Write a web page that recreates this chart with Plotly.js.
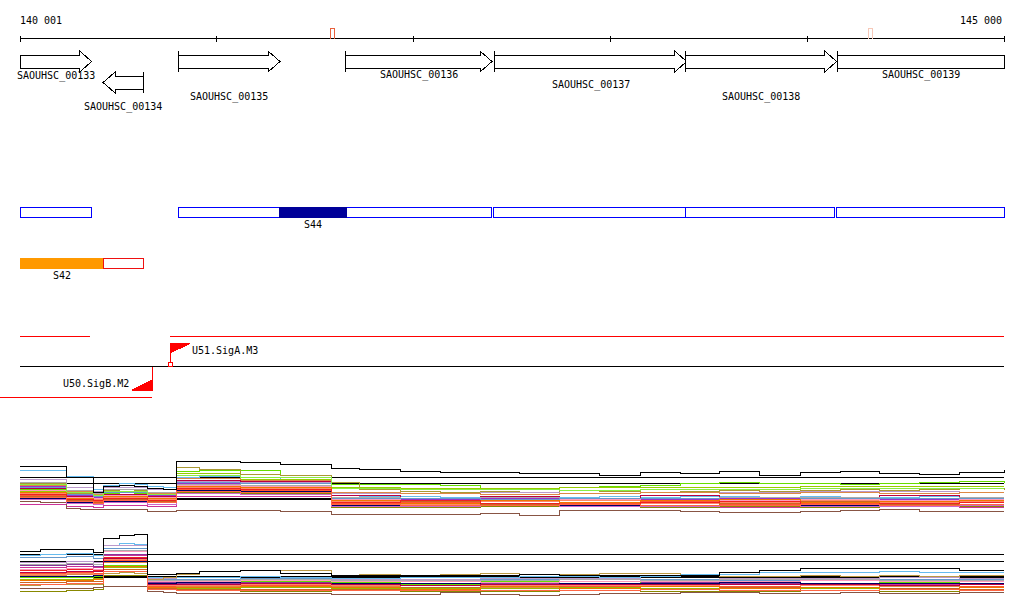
<!DOCTYPE html>
<html><head><meta charset="utf-8">
<script src="https://cdn.plot.ly/plotly-3.0.1.min.js"></script>
<style>html,body{margin:0;padding:0;background:#fff}#chart{width:1024px;height:611px}#chart svg path{shape-rendering:crispEdges}</style>
</head><body><div id="chart"></div>
<script>
// ================= DATA =================
const viewStart = 140001, viewEnd = 145000;
const rulerTicks = [140001, 141000, 142000, 143000, 144000, 145000];
const rulerMarks = [141591, 144324];

const geneNames  = ['SAOUHSC_00133','SAOUHSC_00134','SAOUHSC_00135','SAOUHSC_00136','SAOUHSC_00137','SAOUHSC_00138','SAOUHSC_00139'];
const geneStart  = [139960, 140423, 140805, 141657, 142411, 143383, 144155];
const geneEnd    = [140365, 140627, 141322, 142399, 143388, 144150, 145400];
const geneStrand = ['+', '-', '+', '+', '+', '+', '+'];

const segStart = [140001, 140805, 142409, 143384, 144151];
const segEnd   = [140365, 142397, 143384, 144141, 145000];
const seg44Name = 'S44', seg44Start = 141317, seg44End = 141662;
const seg42Name = 'S42', seg42FillStart = 140001, seg42FillEnd = 140423, seg42BoxStart = 140423, seg42BoxEnd = 140627;

const tuPlusStart  = [140001, 140763];
const tuPlusEnd    = [140357, 145000];
const tuMinusStart = [139800];
const tuMinusEnd   = [140672];

const promoterNames  = ['U51.SigA.M3', 'U50.SigB.M2'];
const promoterPos    = [140768, 140672];
const promoterStrand = ['+', '-'];
const tssPos = [140768];

const exprPos = [140001,140235,140372,140423,140651,140794,141119,141581,141932,142338,142744,143151,143557,143964,144370,144776,145000];
const exprPosFine = [140001,140103,140235,140306,140372,140423,140509,140585,140651,140728,140794,140915,141119,141322,141581,141728,141932,142135,142338,142541,142744,142947,143151,143354,143557,143760,143964,144167,144370,144573,144776,145000];
const track1Thresholds = [11.7, 11.1, 9.6];
const track2Thresholds = [11.5, 10.8, 9.3];

// track 1 (upper expression panel)
const t1_s01 = [12.8,12.8,11.7,11.7,10.2,10.8,10.9,10.8,10.6,10.5,13.3,13.3,13.2,13.0,12.6,12.5,12.3,12.2,12.2,12.1,12.1,11.9,12.2,12.1,12.3,11.9,12.2,12.3,12.1,12.0,12.2,12.5];
const t1_s02 = [12.4,12.4,11.8,11.8,10.5,10.9,11.1,11.0,10.8,10.7,11.7,11.8,11.7,11.5,9.9,9.8,9.8,9.7,9.8,9.7,9.7,9.8,9.7,9.8,9.8,9.7,9.8,9.7,9.7,9.8,9.7,9.7];
const t1_s03 = [10.5,10.5,10.0,9.9,9.8,10.1,10.2,10.1,9.8,9.8,12.3,12.4,12.4,11.9,11.0,11.0,11.0,10.9,10.6,10.6,10.7,10.8,10.9,11.1,11.2,11.1,11.1,11.0,11.1,11.2,11.3,11.2];
const t1_s04 = [10.3,9.8,9.7,10.0,9.7,12.1,11.5,10.7,10.6,10.6,10.7,10.7,10.7,10.8,10.8,10.8,10.8];
const t1_s05 = [11.1,11.1,10.1,10.1,9.9,10.4,10.5,10.4,10.1,10.1,12.7,12.5,12.0,11.9,11.2,10.5,10.3,10.2,10.3,10.2,10.4,10.3,10.2,10.3,10.4,10.3,10.4,10.5,10.4,10.5,10.6,10.5];
const t1_s06 = [11.5,10.7,10.3,10.7,10.5,11.3,11.2,10.1,10.1,10.2,10.1,10.2,10.2,10.3,10.3,10.2,10.2];
const t1_s07 = [9.0,8.8,8.7,8.9,8.8,9.8,9.8,8.7,8.7,8.8,8.8,8.7,8.7,8.8,8.8,8.7,8.7];
const t1_s08 = [9.3,9.2,8.6,8.5,8.5,8.5,8.5,8.5,8.3,8.3,8.4,8.4,8.4,8.3,8.0,8.0,8.0,8.0,8.1,7.9,8.4,8.4,8.4,8.3,8.2,8.2,8.3,8.4,8.5,8.3,8.3,8.3];
const t1_s09 = [10.9,10.3,10.0,10.3,10.1,11.6,11.4,10.2,10.1,10.0,10.1,10.2,10.1,10.2,10.1,10.2,10.2];
const t1_s10 = [9.9,9.5,9.3,9.5,9.3,10.5,10.4,9.1,9.2,8.9,9.1,9.3,9.0,9.1,9.2,8.9,8.9];
const t1_s11 = [10.1,9.6,9.5,9.7,9.5,10.7,10.6,9.3,9.0,9.3,9.4,9.1,9.2,9.4,9.2,9.3,9.3];
const t1_s12 = [10.8,9.9,9.7,10.2,9.9,11.1,10.9,9.5,9.5,9.6,9.5,9.5,9.6,9.5,9.5,9.6,9.6];
const t1_s13 = [10.6,9.8,9.6,10.0,9.8,11.4,11.3,9.9,9.6,9.8,9.5,9.9,9.4,9.7,9.9,9.6,9.6];
const t1_s14 = [9.6,9.2,9.1,9.3,9.2,10.4,10.3,8.9,8.9,8.8,8.9,8.9,8.8,8.9,9.0,8.9,8.9];
const t1_s15 = [11.2,10.4,10.1,10.5,10.2,11.0,10.9,9.7,9.6,9.7,9.6,9.6,9.7,9.7,9.6,9.7,9.7];
const t1_s16 = [9.7,9.3,9.2,9.4,9.2,10.2,10.1,8.7,8.7,8.8,8.8,8.7,8.8,8.7,8.8,8.8,8.8];
const t1_s17 = [10.4,9.7,9.6,9.9,9.7,10.9,10.8,9.5,9.4,9.4,9.5,9.4,9.4,9.5,9.4,9.5,9.5];
const t1_s18 = [9.8,9.4,9.2,9.5,9.3,10.6,10.5,9.2,9.3,9.0,9.2,8.9,9.1,9.3,9.0,9.2,9.2];
const t1_s19 = [10.7,10.0,9.8,10.2,10.0,11.2,11.1,9.6,9.6,9.5,9.6,9.6,9.5,9.6,9.6,9.6,9.6];
const t1_s20 = [11.0,10.2,9.9,10.3,10.0,11.9,11.7,10.6,10.5,10.5,10.4,10.5,10.5,10.6,10.6,10.6,10.6];
const t1_s21 = [10.2,9.6,9.4,9.8,9.6,10.8,10.7,9.4,9.1,9.4,9.2,9.4,9.5,9.2,9.3,9.4,9.4];
const t1_s22 = [9.5,9.1,9.0,9.2,9.0,10.1,10.0,8.8,8.8,8.9,8.8,8.8,8.9,8.8,8.8,8.9,8.9];
const t1_s23 = [10.0,9.5,9.4,9.6,9.4,10.6,10.5,9.2,9.4,9.1,9.0,9.2,9.3,9.0,9.1,9.2,9.2];
const t1_s24 = [9.7,9.3,9.1,9.4,9.2,10.3,10.2,9.0,8.9,8.9,9.0,8.9,8.9,9.0,8.9,9.0,9.0];

// track 2 (lower expression panel)
const t2_s01 = [11.8,12.0,12.0,12.0,11.7,13.1,13.4,13.5,9.5,9.5,9.6,9.8,9.9,9.6,9.4,9.4,9.4,9.4,9.4,9.5,9.4,9.4,9.4,9.4,9.7,9.9,10.1,10.1,10.1,10.1,9.9,9.9];
const t2_s02 = [11.4,11.5,11.6,11.6,11.4,12.4,12.6,12.5,9.2,9.1,9.2,9.2,9.3,9.2,9.1,9.1,9.2,9.2,9.2,9.3,9.3,9.2,9.3,9.5,9.5,9.7,9.7,9.7,9.8,9.7,9.7,9.7];
const t2_s03 = [10.7,10.8,10.7,12.4,9.1,9.0,9.1,9.0,9.0,9.1,9.1,9.0,9.1,9.1,9.2,9.1,9.1];
const t2_s04 = [11.2,11.3,11.1,12.1,9.0,9.0,9.1,8.9,8.9,9.0,9.0,9.0,8.9,9.0,9.0,9.0,9.0];
const t2_s05 = [8.4,8.5,8.5,8.5,8.5,9.6,9.7,9.6,9.0,9.2,9.5,9.8,9.9,9.9,9.4,9.5,9.4,9.5,9.6,9.5,9.5,9.6,9.6,9.4,9.3,9.3,9.4,9.3,9.4,9.3,9.4,9.4];
const t2_s06 = [10.2,10.3,10.2,11.4,8.6,8.5,8.6,8.5,8.5,8.6,8.5,8.5,8.6,8.6,8.5,8.6,8.6];
const t2_s07 = [10.4,10.5,10.3,11.5,8.7,8.6,8.7,8.6,8.6,8.6,8.6,8.7,8.6,8.6,8.7,8.6,8.6];
const t2_s08 = [9.9,10.0,9.9,11.2,8.5,8.4,8.5,8.4,8.6,8.3,8.5,8.4,8.2,8.5,8.6,8.3,8.3];
const t2_s09 = [9.6,9.7,9.6,10.9,8.3,8.3,8.4,8.2,8.1,8.4,8.3,8.1,8.3,8.4,8.1,8.3,8.3];
const t2_s10 = [9.4,9.5,9.4,10.7,8.4,8.3,8.3,8.3,8.2,8.2,8.2,8.3,8.2,8.2,8.3,8.2,8.2];
const t2_s11 = [9.2,9.2,9.3,10.4,8.8,8.7,8.8,8.7,8.5,8.8,8.6,8.8,8.5,8.4,8.7,8.6,8.6];
const t2_s12 = [9.0,9.0,9.1,10.2,8.2,8.1,8.2,8.1,8.1,8.1,8.2,8.1,8.1,8.1,8.1,8.2,8.2];
const t2_s13 = [7.8,7.9,8.0,9.4,8.0,7.9,7.8,7.9,7.8,7.8,7.9,7.8,7.8,7.9,7.8,7.9,7.9];
const t2_s14 = [8.1,8.1,8.1,8.1,8.2,8.3,8.3,8.3,7.8,7.7,7.6,7.6,7.6,7.6,7.5,7.5,7.5,7.7,7.5,7.4,7.5,7.6,7.6,7.7,7.7,7.6,7.6,7.7,7.6,7.6,7.7,7.7];
const t2_s15 = [9.3,9.3,9.4,10.8,8.6,8.7,8.6,8.6,8.6,8.5,8.6,8.6,8.7,8.6,8.6,8.6,8.6];
const t2_s16 = [8.7,8.8,8.8,10.0,8.1,8.0,8.0,8.0,8.2,7.9,8.1,8.0,8.2,7.9,8.1,8.0,8.0];
const t2_s17 = [9.5,9.6,9.5,11.0,8.4,8.4,8.5,8.4,8.4,8.4,8.4,8.4,8.5,8.4,8.4,8.5,8.5];
const t2_s18 = [10.0,10.1,10.0,11.8,8.8,8.8,8.9,8.8,8.8,8.7,8.8,8.8,8.8,8.9,8.8,8.8,8.8];
const t2_s19 = [10.5,10.6,10.5,11.9,8.9,8.9,9.0,8.9,8.9,8.9,9.0,8.9,9.0,9.0,8.9,8.9,8.9];
const t2_s20 = [8.9,8.9,9.0,10.3,8.2,8.2,8.3,8.2,8.0,8.3,8.1,8.3,8.1,8.2,8.0,8.2,8.2];
const t2_s21 = [9.7,9.8,9.8,11.1,8.5,8.5,8.6,8.5,8.4,8.5,8.5,8.5,8.5,8.5,8.4,8.5,8.5];
const t2_s22 = [8.5,8.6,8.6,9.8,8.0,7.9,7.9,7.9,7.9,7.9,7.9,8.0,7.9,7.9,8.0,7.9,7.9];

// ================= STYLE / LAYOUT =================
const FONT = {family: 'DejaVu Sans Mono, monospace', size: 10, color: '#000'};
const PXW = 984;                                   // pixels covering the view
const bpPerPx = (viewEnd - viewStart) / PXW;
const pad = 20 * bpPerPx;

const track1 = [t1_s02,t1_s03,t1_s04,t1_s05,t1_s06,t1_s07,t1_s08,t1_s09,t1_s10,t1_s11,t1_s12,t1_s13,t1_s14,t1_s15,t1_s16,t1_s17,t1_s18,t1_s19,t1_s20,t1_s21,t1_s22,t1_s23,t1_s24];
const track1Colors = ['#66bbee','#66dd00','#99cc00','#aa9933','#bb99cc','#cc3399','#885544','#dd8844','#ff5533','#ff8866','#9933cc','#bb0044','#000066','#aaaaaa','#888800','#ff99bb','#cc6622','#6699cc','#88ee44','#ee7700','#cc66cc','#ee2222','#ff6644'];
const track2 = [t2_s02,t2_s03,t2_s04,t2_s05,t2_s06,t2_s07,t2_s08,t2_s09,t2_s10,t2_s11,t2_s12,t2_s13,t2_s14,t2_s15,t2_s16,t2_s17,t2_s18,t2_s19,t2_s20,t2_s21,t2_s22];
const track2Colors = ['#66bbee','#bb99cc','#6699cc','#bb9944','#cc3399','#883399','#ee2222','#ff5533','#dd8844','#66dd00','#99bb00','#888800','#885544','#000066','#cc6622','#ff8866','#ff99bb','#aaaaaa','#ee7700','#bb0044','#ff6644'];

// row positions (pixel rows of the annotation panel)
const RULER_Y = 38.5, RULER_LABEL_Y = 20;
const GENE_Y = {'+': 61.5, '-': 82.5};
const GENE_LABEL_Y = [76, 107, 97, 75, 85, 97, 75];
const SEG_Y0 = 207.5, SEG_Y1 = 217.5, SEG_LABEL_Y = 224;
const S42_Y0 = 258.5, S42_Y1 = 268.5, S42_LABEL_Y = 275;
const TU_PLUS_Y = 336.5, STRAND_Y = 366.5, TU_MINUS_Y = 397.5;

const shapes = [], annotations = [], traces = [];

// ruler
traces.push({x:[viewStart, viewEnd], y:[RULER_Y, RULER_Y], xaxis:'x', yaxis:'y', mode:'lines',
  line:{color:'#000', width:1}, hoverinfo:'skip'});
rulerTicks.forEach(t => shapes.push({type:'line', xref:'x', yref:'y', x0:t, x1:t, y0:RULER_Y-3, y1:RULER_Y+3, line:{color:'#000', width:1}}));
const fmt = n => String(n).replace(/\B(?=(\d{3})+(?!\d))/g, ' ');
annotations.push({x:viewStart, y:RULER_LABEL_Y, xref:'x', yref:'y', text:fmt(viewStart), showarrow:false, xanchor:'left', yanchor:'middle', font:FONT, xshift:-2});
annotations.push({x:viewEnd, y:RULER_LABEL_Y, xref:'x', yref:'y', text:fmt(viewEnd), showarrow:false, xanchor:'right', yanchor:'middle', font:FONT, xshift:0});
const markColors = ['#e8603c', '#f6c8b8'];
rulerMarks.forEach((m, i) => {
  const h = 2 * bpPerPx;
  shapes.push({type:'path', xref:'x', yref:'y', path:`M ${m-h},${RULER_Y} L ${m-h},28 L ${m+h},28 L ${m+h},${RULER_Y}`, line:{color:markColors[i], width:1}});
});

// genes
const HEAD = 12 * bpPerPx, BH = 6.5, HH = 10.5;
geneNames.forEach((name, i) => {
  const st = geneStrand[i], yc = GENE_Y[st];
  const s = Math.max(geneStart[i], viewStart), e = Math.min(geneEnd[i], viewEnd);
  let p;
  if (st === '+') {
    if (geneEnd[i] > viewEnd) {
      p = `M ${s},${yc-BH} L ${e},${yc-BH} L ${e},${yc+BH} L ${s},${yc+BH} Z`;
    } else {
      const hb = e - HEAD;
      p = `M ${s},${yc-BH} L ${hb},${yc-BH} L ${hb},${yc-HH} L ${e},${yc} L ${hb},${yc+HH} L ${hb},${yc+BH} L ${s},${yc+BH} Z`;
    }
    if (geneStart[i] > viewStart) shapes.push({type:'line', xref:'x', yref:'y', x0:s, x1:s, y0:yc-HH, y1:yc+HH, line:{color:'#000', width:1}});
  } else {
    const hb = s + HEAD;
    p = `M ${e},${yc-BH} L ${hb},${yc-BH} L ${hb},${yc-HH} L ${s},${yc} L ${hb},${yc+HH} L ${hb},${yc+BH} L ${e},${yc+BH} Z`;
    if (geneEnd[i] < viewEnd) shapes.push({type:'line', xref:'x', yref:'y', x0:e, x1:e, y0:yc-HH, y1:yc+HH, line:{color:'#000', width:1}});
  }
  shapes.push({type:'path', xref:'x', yref:'y', path:p, fillcolor:'#fff', line:{color:'#000', width:1}, layer:'below'});
  annotations.push({x:(s+e)/2, y:GENE_LABEL_Y[i], xref:'x', yref:'y', text:name, showarrow:false, xanchor:'center', yanchor:'middle', font:FONT});
});

// segments
segStart.forEach((s, i) => shapes.push({type:'rect', xref:'x', yref:'y', x0:s, x1:segEnd[i], y0:SEG_Y0, y1:SEG_Y1, line:{color:'#0000ff', width:1}, fillcolor:'rgba(0,0,0,0)'}));
shapes.push({type:'rect', xref:'x', yref:'y', x0:seg44Start, x1:seg44End, y0:SEG_Y0, y1:SEG_Y1, line:{color:'#000099', width:1}, fillcolor:'#000099'});
annotations.push({x:(seg44Start+seg44End)/2, y:SEG_LABEL_Y, xref:'x', yref:'y', text:seg44Name, showarrow:false, xanchor:'center', yanchor:'middle', font:FONT});
shapes.push({type:'rect', xref:'x', yref:'y', x0:seg42FillStart, x1:seg42FillEnd, y0:S42_Y0, y1:S42_Y1, line:{color:'#ff9900', width:1}, fillcolor:'#ff9900'});
shapes.push({type:'rect', xref:'x', yref:'y', x0:seg42BoxStart, x1:seg42BoxEnd, y0:S42_Y0, y1:S42_Y1, line:{color:'#ee1111', width:1}, fillcolor:'rgba(0,0,0,0)'});
annotations.push({x:(seg42FillStart+seg42FillEnd)/2, y:S42_LABEL_Y, xref:'x', yref:'y', text:seg42Name, showarrow:false, xanchor:'center', yanchor:'middle', font:FONT});

// transcription units / strand line
tuPlusStart.forEach((s, i) => shapes.push({type:'line', xref:'x', yref:'y', x0:s, x1:tuPlusEnd[i], y0:TU_PLUS_Y, y1:TU_PLUS_Y, line:{color:'#ff0000', width:1}}));
tuMinusStart.forEach((s, i) => shapes.push({type:'line', xref:'x', yref:'y', x0:s, x1:tuMinusEnd[i], y0:TU_MINUS_Y, y1:TU_MINUS_Y, line:{color:'#ff0000', width:1}}));
shapes.push({type:'line', xref:'x', yref:'y', x0:viewStart, x1:viewEnd, y0:STRAND_Y, y1:STRAND_Y, line:{color:'#000', width:1}});

// promoters (flags)
promoterNames.forEach((name, i) => {
  const p = promoterPos[i];
  if (promoterStrand[i] === '+') {
    const top = STRAND_Y - 23;
    shapes.push({type:'line', xref:'x', yref:'y', x0:p, x1:p, y0:STRAND_Y-3, y1:top, line:{color:'#ff0000', width:1}});
    shapes.push({type:'path', xref:'x', yref:'y', path:`M ${p},${top} L ${p+19*bpPerPx},${top} L ${p},${top+9} Z`, fillcolor:'#ff0000', line:{color:'#ff0000', width:1}});
    annotations.push({x:p+19*bpPerPx, y:top+7, xref:'x', yref:'y', text:name, showarrow:false, xanchor:'left', yanchor:'middle', font:FONT});
  } else {
    const bot = STRAND_Y + 23.5;
    shapes.push({type:'line', xref:'x', yref:'y', x0:p, x1:p, y0:STRAND_Y, y1:bot, line:{color:'#ff0000', width:1}});
    shapes.push({type:'path', xref:'x', yref:'y', path:`M ${p},${bot} L ${p-20*bpPerPx},${bot} L ${p},${bot-10} Z`, fillcolor:'#ff0000', line:{color:'#ff0000', width:1}});
    annotations.push({x:p-21*bpPerPx, y:bot-7, xref:'x', yref:'y', text:name, showarrow:false, xanchor:'right', yanchor:'middle', font:FONT});
  }
});
tssPos.forEach(p => shapes.push({type:'rect', xref:'x', yref:'y', x0:p-2*bpPerPx, x1:p+2*bpPerPx, y0:STRAND_Y-4, y1:STRAND_Y, line:{color:'#ff0000', width:1}, fillcolor:'#fff'}));

// expression panels
const posFor = vals => vals.length === exprPosFine.length ? exprPosFine : exprPos;
function addTrack(series, colors, top, thresholds, yax) {
  thresholds.forEach((v, k) => traces.push({x:[viewStart, viewEnd], y:[v, v], xaxis:'x', yaxis:yax, mode:'lines', line:{color:'#000', width:k === 2 ? 2 : 1}, hoverinfo:'skip'}));
  series.forEach((vals, k) => traces.push({x:posFor(vals), y:vals, xaxis:'x', yaxis:yax, mode:'lines', line:{color:colors[k], width:1, shape:'hv'}, hoverinfo:'skip'}));
  traces.push({x:posFor(top), y:top, xaxis:'x', yaxis:yax, mode:'lines', line:{color:'#000', width:1, shape:'hv'}, hoverinfo:'skip'});
}
addTrack(track1, track1Colors, t1_s01, track1Thresholds, 'y2');
addTrack(track2, track2Colors, t2_s01, track2Thresholds, 'y3');

const layout = {
  width:1024, height:611, margin:{l:0, r:0, t:0, b:0}, showlegend:false,
  paper_bgcolor:'#fff', plot_bgcolor:'#fff',
  xaxis:{range:[viewStart-pad, viewEnd+pad], visible:false, fixedrange:true},
  yaxis:{domain:[0, 1], range:[611, 0], visible:false, fixedrange:true},
  yaxis2:{domain:[1-525/611, 1-455/611], range:[6.95, 13.95], visible:false, anchor:'x', fixedrange:true},
  yaxis3:{domain:[1-600/611, 1-530/611], range:[6.95, 13.95], visible:false, anchor:'x', fixedrange:true},
  shapes, annotations
};
Plotly.newPlot('chart', traces, layout, {staticPlot:true, displayModeBar:false});
</script></body></html>
